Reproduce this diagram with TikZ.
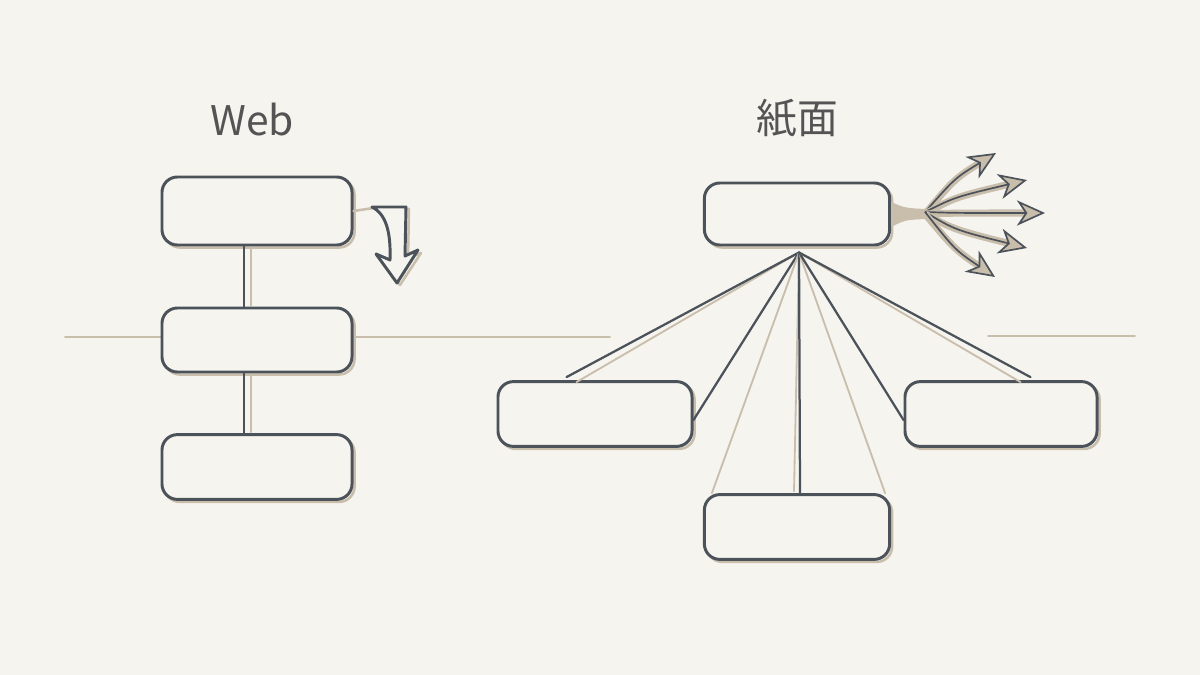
\documentclass[tikz,border=0pt]{standalone}
\usepackage{fontspec}
\newfontfamily\jpfont{Noto Sans CJK JP}
\usepackage{xcolor}
\usepackage{tikz}
\usetikzlibrary{arrows.meta,calc,positioning}

\definecolor{paper}{HTML}{F5F4EF}
\definecolor{slate}{HTML}{4B525A}
\definecolor{sand}{HTML}{C9BDAB}
\definecolor{ink}{HTML}{545454}

\begin{document}
\begin{tikzpicture}[x=0.025cm, y=-0.025cm,
	pen/.style={draw=slate, line width=2.1pt, line cap=round, line join=round},
	shade/.style={draw=sand, line width=1.8pt, line cap=round, line join=round},
	card/.style={pen, fill=paper, rounded corners=11pt, inner sep=0,
		preaction={draw=sand, line width=1.8pt, transform canvas={shift={(1.8pt,-1.8pt)}}}},
	title/.style={font=\jpfont\fontsize{29}{32}\selectfont, text=ink, inner sep=0}
]
\useasboundingbox (0,0) rectangle (1200,675);
\fill[paper] (0,0) rectangle (1200,675);

% fold line
\draw[shade, line width=1.3pt] (65,337) -- (610,337);
\draw[shade, line width=1.3pt] (988,336) -- (1135,336);

%Web
\node[title] (web) at (252,120) {Web};
\node[card, minimum width=4.75cm, minimum height=1.7cm] (A) at (257,211) {};
\node[card, minimum width=4.75cm, minimum height=1.6cm] (B) at (257,340) {};
\node[card, minimum width=4.75cm, minimum height=1.62cm] (C) at (257,467) {};
\draw[shade] ($(A.south)+(-6,1)$) -- ($(B.north)+(-6,-1)$);
\draw[pen] ($(A.south)+(-13,-1)$) -- ($(B.north)+(-13,1)$);
\draw[shade] ($(B.south)+(-6,1)$) -- ($(C.north)+(-6,-1)$);
\draw[pen] ($(B.south)+(-13,-1)$) -- ($(C.north)+(-13,1)$);

% scroll arrow
\coordinate (scroll) at ($(A.east)+(20,-3)$);
\draw[shade] (A.east) -- (scroll);
\draw[shade, fill=paper] (376,209) -- (409,209) -- (408,258) -- (421,253) -- (400,285) -- (379,256) -- (393,262)
	.. controls (394,234) and (389,216) .. (376,209);
\draw[pen, fill=paper] (372,207) -- (406,207) -- (405,256) -- (418,250) -- (397,283) -- (376,254) -- (390,260)
	.. controls (391,232) and (386,214) .. (372,207);

%paper
\node[title] (kami) at (797,118) {紙面};
\node[card, minimum width=4.63cm, minimum height=1.55cm] (T) at (797,214) {};
\node[card, minimum width=4.85cm, minimum height=1.62cm] (L) at (595,414) {};
\node[card, minimum width=4.8cm, minimum height=1.62cm] (R) at (1001,414) {};
\node[card, minimum width=4.63cm, minimum height=1.62cm] (D) at (797,527) {};

\coordinate (apex) at ($(T.south)+(2,6)$);
\draw[shade, line width=1.3pt] (apex) -- ($(L.north west)+(80,2)$);
\draw[pen, line width=1.6pt] (apex) -- ($(L.north west)+(70,-3)$);
\draw[pen, line width=1.6pt] (apex) -- ($(L.east)+(0,6)$);
\draw[shade, line width=1.3pt] (apex) -- ($(D.north west)+(9,0)$);
\draw[shade, line width=1.3pt] (apex) -- ($(D.north)+(-3,-2)$);
\draw[pen, line width=1.6pt] (apex) -- ($(D.north)+(3,0)$);
\draw[shade, line width=1.3pt] (apex) -- ($(D.north east)+(-6,0)$);
\draw[pen, line width=1.6pt] (apex) -- ($(R.west)+(0,6)$);
\draw[shade, line width=1.3pt] (apex) -- ($(R.north east)+(-78,2)$);
\draw[pen, line width=1.6pt] (apex) -- ($(R.north east)+(-68,-3)$);

% spreading arrows
\coordinate (hub) at ($(T.east)+(34,0)$);
\coordinate (t1) at (996,153);
\coordinate (t2) at (1027,180);
\coordinate (t3) at (1045,213);
\coordinate (t4) at (1027,248);
\coordinate (t5) at (995,277);
\fill[sand] ($(T.east)+(0,-12)$) .. controls ($(T.east)+(14,-6)$) .. ($(hub)+(0,-5)$) -- ($(hub)+(0,5)$)
	.. controls ($(T.east)+(14,6)$) .. ($(T.east)+(0,13)$) -- cycle;
\foreach \t/\c in {t1/178, t2/197, t3/213, t4/230, t5/250} {
	\draw[sand, line width=5pt, shorten >=6pt] (hub) .. controls (955,\c) .. (\t);
	\draw[slate, line width=1.2pt, -{Stealth[length=20, width=18, inset=6, fill=sand]}] ($(hub)+(0,-2)$) .. controls (955,\c) .. (\t);
}
\end{tikzpicture}
\end{document}
